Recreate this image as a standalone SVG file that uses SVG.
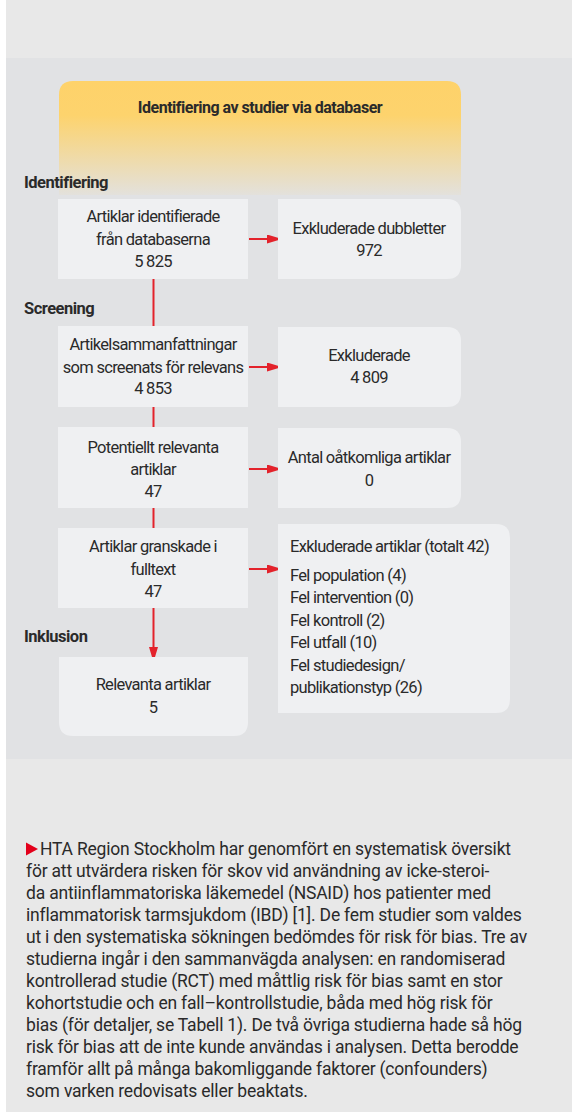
<svg xmlns="http://www.w3.org/2000/svg" width="572" height="1112" viewBox="0 0 572 1112">
<defs>
<linearGradient id="yg" x1="0" y1="0" x2="0" y2="1">
<stop offset="0" stop-color="#fed26a"/>
<stop offset="0.3" stop-color="#fdd36d"/>
<stop offset="1" stop-color="#e3e1dc"/>
</linearGradient>
<marker id="ah" viewBox="0 0 15 9" refX="15" refY="4.5" markerWidth="15" markerHeight="9" markerUnits="userSpaceOnUse" orient="auto" preserveAspectRatio="none">
<path d="M0,0 L15,4.5 L0,9 Z" fill="#e3222b"/>
</marker>
<style>
.box{fill:#eff0f2}
.t{font-family:Roboto,"Liberation Sans",sans-serif;font-size:16.5px;fill:#2a2a2a;text-anchor:middle;letter-spacing:-0.7px}
.tl{font-family:Roboto,"Liberation Sans",sans-serif;font-size:16.5px;fill:#2a2a2a;letter-spacing:-0.7px}
.lab{font-family:Roboto,"Liberation Sans",sans-serif;font-size:16.5px;font-weight:bold;fill:#2a2a2a;letter-spacing:-0.5px}
.ttl{font-family:Roboto,"Liberation Sans",sans-serif;font-size:16px;font-weight:bold;fill:#2a2a2a;letter-spacing:-0.5px;text-anchor:middle}
.p{font-family:Roboto,"Liberation Sans",sans-serif;font-size:17.5px;fill:#2a2a2a;letter-spacing:-0.2px}
.c{stroke:#e3222b;stroke-width:2;fill:none}
</style>
</defs>
<rect x="0" y="0" width="572" height="1112" fill="#e8e8e8"/>
<rect x="0" y="0" width="6" height="1112" fill="#ffffff"/>
<rect x="6" y="58" width="566" height="701" fill="#e1e2e4"/>

<g id="header">
<path d="M59,95 Q59,81 73,81 L447,81 Q461,81 461,95 L461,195 L59,195 Z" fill="url(#yg)"/>
<text class="ttl" x="260" y="113">Identifiering av studier via databaser</text>
</g>
<g id="labels">
<text class="lab" x="24" y="188">Identifiering</text>
<text class="lab" x="24" y="314">Screening</text>
<text class="lab" x="24" y="642">Inklusion</text>
</g>

<g id="connectors">
<line class="c" x1="153.5" y1="279" x2="153.5" y2="326"/>
<line class="c" x1="153.5" y1="407" x2="153.5" y2="427"/>
<line class="c" x1="153.5" y1="508" x2="153.5" y2="528"/>
<line class="c" x1="153.5" y1="608" x2="153.5" y2="662" marker-end="url(#ah)"/>
<line class="c" x1="249" y1="239" x2="282" y2="239" marker-end="url(#ah)"/>
<line class="c" x1="249" y1="367" x2="282" y2="367" marker-end="url(#ah)"/>
<line class="c" x1="249" y1="469" x2="282" y2="469" marker-end="url(#ah)"/>
<line class="c" x1="249" y1="569" x2="282" y2="569" marker-end="url(#ah)"/>
</g>

<g id="n1">
<rect class="box" x="58" y="199" width="190" height="80"/>
<text class="t" x="153" y="222">Artiklar identifierade</text>
<text class="t" x="153" y="245">från databaserna</text>
<text class="t" x="153" y="267">5 825</text>
</g>
<g id="e1">
<path class="box" d="M278,199 L447,199 Q461,199 461,213 L461,265 Q461,279 447,279 L278,279 Z"/>
<text class="t" x="369" y="234">Exkluderade dubbletter</text>
<text class="t" x="369" y="256">972</text>
</g>

<g id="n2">
<rect class="box" x="58" y="326" width="190" height="81"/>
<text class="t" x="153" y="350">Artikelsammanfattningar</text>
<text class="t" x="153" y="373">som screenats för relevans</text>
<text class="t" x="153" y="394">4 853</text>
</g>
<g id="e2">
<path class="box" d="M278,327 L447,327 Q461,327 461,341 L461,393 Q461,407 447,407 L278,407 Z"/>
<text class="t" x="369" y="361">Exkluderade</text>
<text class="t" x="369" y="383">4 809</text>
</g>

<g id="n3">
<rect class="box" x="58" y="427" width="190" height="81"/>
<text class="t" x="153" y="453">Potentiellt relevanta</text>
<text class="t" x="153" y="475">artiklar</text>
<text class="t" x="153" y="497">47</text>
</g>
<g id="e3">
<path class="box" d="M278,428 L447,428 Q461,428 461,442 L461,494 Q461,508 447,508 L278,508 Z"/>
<text class="t" x="369" y="463">Antal oåtkomliga artiklar</text>
<text class="t" x="369" y="486">0</text>
</g>

<g id="n4">
<rect class="box" x="58" y="528" width="190" height="80"/>
<text class="t" x="153" y="552">Artiklar granskade i</text>
<text class="t" x="153" y="575">fulltext</text>
<text class="t" x="153" y="597">47</text>
</g>
<g id="e4">
<path class="box" d="M278,524 L496,524 Q510,524 510,538 L510,699 Q510,713 496,713 L278,713 Z"/>
<text class="tl" x="290" y="552">Exkluderade artiklar (totalt 42)</text>
<text class="tl" x="290" y="581">Fel population (4)</text>
<text class="tl" x="290" y="603">Fel intervention (0)</text>
<text class="tl" x="290" y="626">Fel kontroll (2)</text>
<text class="tl" x="290" y="648">Fel utfall (10)</text>
<text class="tl" x="290" y="671">Fel studiedesign/</text>
<text class="tl" x="290" y="693">publikationstyp (26)</text>
</g>

<g id="n5">
<path class="box" d="M59,657 L248,657 L248,722 Q248,736 234,736 L73,736 Q59,736 59,722 Z"/>
<text class="t" x="153" y="690">Relevanta artiklar</text>
<text class="t" x="153" y="713">5</text>
</g>

<g id="body">
<path d="M26,842.5 L38,849 L26,855.5 Z" fill="#e3001b"/>
<text class="p" x="40" y="855">HTA Region Stockholm har genomfört en systematisk översikt</text>
<text class="p" x="26" y="877">för att utvärdera risken för skov vid användning av icke-steroi-</text>
<text class="p" x="26" y="899">da antiinflammatoriska läkemedel (NSAID) hos patienter med</text>
<text class="p" x="26" y="921">inflammatorisk tarmsjukdom (IBD) [1]. De fem studier som valdes</text>
<text class="p" x="26" y="943">ut i den systematiska sökningen bedömdes för risk för bias. Tre av</text>
<text class="p" x="26" y="965">studierna ingår i den sammanvägda analysen: en randomiserad</text>
<text class="p" x="26" y="987">kontrollerad studie (RCT) med måttlig risk för bias samt en stor</text>
<text class="p" x="26" y="1009">kohortstudie och en fall–kontrollstudie, båda med hög risk för</text>
<text class="p" x="26" y="1031">bias (för detaljer, se Tabell 1). De två övriga studierna hade så hög</text>
<text class="p" x="26" y="1053">risk för bias att de inte kunde användas i analysen. Detta berodde</text>
<text class="p" x="26" y="1075">framför allt på många bakomliggande faktorer (confounders)</text>
<text class="p" x="26" y="1097">som varken redovisats eller beaktats.</text>
</g>
</svg>
